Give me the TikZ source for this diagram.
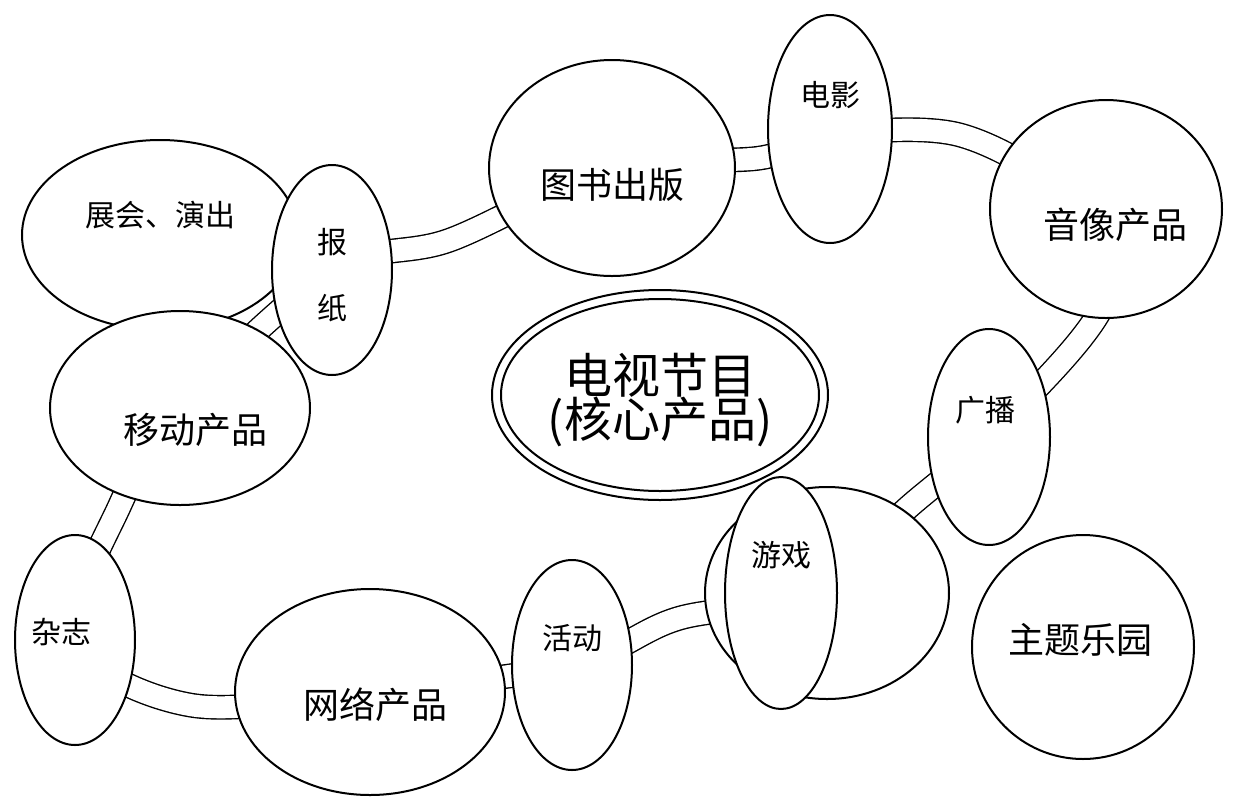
\documentclass[tikz,border=0pt]{standalone}
\usepackage{fontspec}
\newfontfamily\cjk{Noto Sans CJK SC}
\begin{document}
\begin{tikzpicture}[x=0.5pt,y=-0.5pt,
  el/.style={draw,fill=white,line width=1pt},
  lbl/.style={font=\cjk\fontsize{#1}{#1}\selectfont,align=center}]
\useasboundingbox (0,0) rectangle (1260,810);
% band
\draw[line width=0.7pt,double=white,double distance=11pt]
  plot[smooth cycle,tension=0.55] coordinates {(75,640) (120,505) (180,408) (332,270) (450,240) (612,168) (760,158) (830,135) (960,135) (1070,200) (1105,300) (989,437) (900,515) (827,593) (680,618) (572,665) (370,692) (190,705)};
% ellipses
\draw[el] (160,235) ellipse [x radius=138,y radius=95];
\node[lbl=15] (zh) at (160,215) {展会、演出};
\draw[el] (180,408) ellipse [x radius=130,y radius=97];
\node[lbl=18] (yd) at (195,430) {移动产品};
\draw[el] (332,270) ellipse [x radius=60,y radius=105];
\node[lbl=15] (bz) at (332,275) {报\\[18pt]纸};
\draw[el] (612,168) ellipse [x radius=123,y radius=108];
\node[lbl=18] (ts) at (612,185) {图书出版};
\draw[el] (830,129) ellipse [x radius=62,y radius=114];
\node[lbl=15] (dy) at (830,95) {电影};
\draw[el] (1106,209) ellipse [x radius=116,y radius=109];
\node[lbl=18] (yx) at (1115,225) {音像产品};
\draw[el] (989,437) ellipse [x radius=61,y radius=108];
\node[lbl=15] (gb) at (985,410) {广播};
\draw[el] (827,593) ellipse [x radius=122,y radius=106];
\draw[el] (781,593) ellipse [x radius=56,y radius=116];
\node[lbl=15] (yxi) at (781,555) {游戏};
\draw[el] (1083,647) ellipse [x radius=111,y radius=112];
\node[lbl=18] (zt) at (1080,640) {主题乐园};
\draw[el] (370,692) ellipse [x radius=135,y radius=103];
\node[lbl=18] (wl) at (375,705) {网络产品};
\draw[el] (572,665) ellipse [x radius=60,y radius=105];
\node[lbl=15] (hd) at (572,638) {活动};
\draw[el] (75,640) ellipse [x radius=60,y radius=105];
\node[lbl=15] (zz) at (62,632) {杂志};
% centre
\draw[el] (660,395) ellipse [x radius=168,y radius=105];
\draw[line width=1pt] (660,395) ellipse [x radius=159,y radius=96];
\node[lbl=24,text depth=0pt] (ds) at (660,395) {电视节目\\[-2pt](核心产品)};
\end{tikzpicture}
\end{document}
